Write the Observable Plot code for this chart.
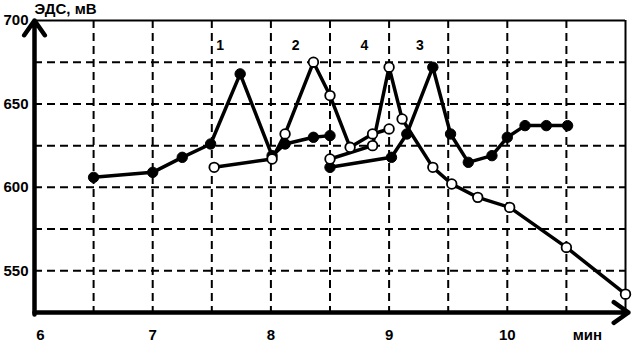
<!DOCTYPE html>
<html><head><meta charset="utf-8">
<script src="https://cdn.jsdelivr.net/npm/d3@7"></script>
<script src="https://cdn.jsdelivr.net/npm/@observablehq/plot@0.6"></script>
<style>
html,body{margin:0;padding:0;background:#fff;}
</style></head><body><div id="chart"></div>
<script>
const yTitle = "ЭДС, мВ";
const xUnit = "мин";
const xTicks = [6, 7, 8, 9, 10];
const yTicks = [550, 600, 650, 700];
const xGrid = [6.5, 7, 7.5, 8, 8.5, 9, 9.5, 10, 10.5];
const yGrid = [550, 575, 600, 625, 650, 675];
const xDomain = [6, 11];
const yDomain = [525, 700];

const curveNames = ["1", "2", "3", "4"];
const curveFilled = [true, false, true, false];
const curve1Time = [6.50, 7.00, 7.25, 7.49, 7.74, 8.01, 8.12, 8.36, 8.50];
const curve1Emf  = [606, 609, 618, 626, 668, 619, 626, 630, 631];
const curve2Time = [7.52, 8.01, 8.12, 8.36, 8.50, 8.67, 8.86, 9.00];
const curve2Emf  = [612, 617, 632, 675, 655, 624, 632, 635];
const curve3Time = [8.50, 9.02, 9.15, 9.37, 9.52, 9.67, 9.87, 10.00, 10.15, 10.33, 10.51];
const curve3Emf  = [612, 618, 632, 672, 632, 615, 619, 630, 637, 637, 637];
const curve4Time = [8.50, 8.86, 9.00, 9.11, 9.37, 9.53, 9.75, 10.02, 10.50, 11.00];
const curve4Emf  = [617, 625, 672, 641, 612, 602, 594, 588, 564, 536];
const labelTime = [7.57, 8.21, 9.26, 8.79];
const labelEmf  = [685, 685, 685, 685];

const times = [curve1Time, curve2Time, curve3Time, curve4Time];
const emfs = [curve1Emf, curve2Emf, curve3Emf, curve4Emf];
const data = [];
curveNames.forEach((name, k) => {
  times[k].forEach((t, i) => data.push({curve: name, t, e: emfs[k][i], filled: curveFilled[k]}));
});
const labels = curveNames.map((name, k) => ({name, t: labelTime[k], e: labelEmf[k]}));

const plot = Plot.plot({
  width: 634, height: 346,
  marginLeft: 34, marginRight: 9, marginTop: 20, marginBottom: 34,
  x: {domain: xDomain, axis: null},
  y: {domain: yDomain, axis: null},
  style: {fontFamily: "'Liberation Sans', Arial, sans-serif", fontSize: "15px", color: "#000", background: "#fff"},
  marks: [
    Plot.ruleY(yGrid, {stroke: "#000", strokeWidth: 2, strokeDasharray: "8,5"}),
    Plot.ruleX(xGrid, {stroke: "#000", strokeWidth: 2, strokeDasharray: "8,5"}),
    Plot.ruleY([yDomain[1]], {stroke: "#000", strokeWidth: 2}),
    Plot.ruleX([xDomain[1]], {stroke: "#000", strokeWidth: 2}),
    Plot.line(data, {x: "t", y: "e", z: "curve", stroke: "#000", strokeWidth: 3.5, strokeLinejoin: "round"}),
    Plot.dot(data.filter(d => d.filled), {x: "t", y: "e", r: 5.2, fill: "#000", stroke: "#000", strokeWidth: 1}),
    Plot.dot(data.filter(d => !d.filled), {x: "t", y: "e", r: 4.8, fill: "#fff", stroke: "#000", strokeWidth: 1.8}),
    Plot.arrow([0], {x1: () => xDomain[0], y1: () => yDomain[0], x2: () => xDomain[0], y2: () => yDomain[1],
      stroke: "#000", strokeWidth: 4.5, headLength: 6, headAngle: 70, insetStart: -2}),
    Plot.arrow([0], {x1: () => xDomain[0], y1: () => yDomain[0], x2: () => xDomain[1], y2: () => yDomain[0],
      stroke: "#000", strokeWidth: 4.5, headLength: 6, headAngle: 70, insetEnd: -3}),
    Plot.text(yTicks, {y: d => d, text: d => String(d), frameAnchor: "left", dx: -6, textAnchor: "end", fontWeight: "bold", fontSize: 15}),
    Plot.text(xTicks.slice(0, 1), {x: d => d, text: d => String(d), frameAnchor: "bottom", dy: 27, dx: 6, fontWeight: "bold", fontSize: 15}),
    Plot.text(xTicks.slice(1), {x: d => d, text: d => String(d), frameAnchor: "bottom", dy: 27, fontWeight: "bold", fontSize: 15}),
    Plot.text([xUnit], {x: () => xGrid[xGrid.length - 1], text: d => d, frameAnchor: "bottom", dy: 27, dx: 21, fontWeight: "bold", fontSize: 15}),
    Plot.text(labels, {x: "t", y: "e", text: "name", fontSize: 14, fontWeight: 600}),
    Plot.text([yTitle], {frameAnchor: "top-left", text: d => d, dy: -7, lineAnchor: "bottom", textAnchor: "start", fontWeight: "bold", fontSize: 15})
  ]
});
document.getElementById("chart").appendChild(plot);
</script>
</body></html>
